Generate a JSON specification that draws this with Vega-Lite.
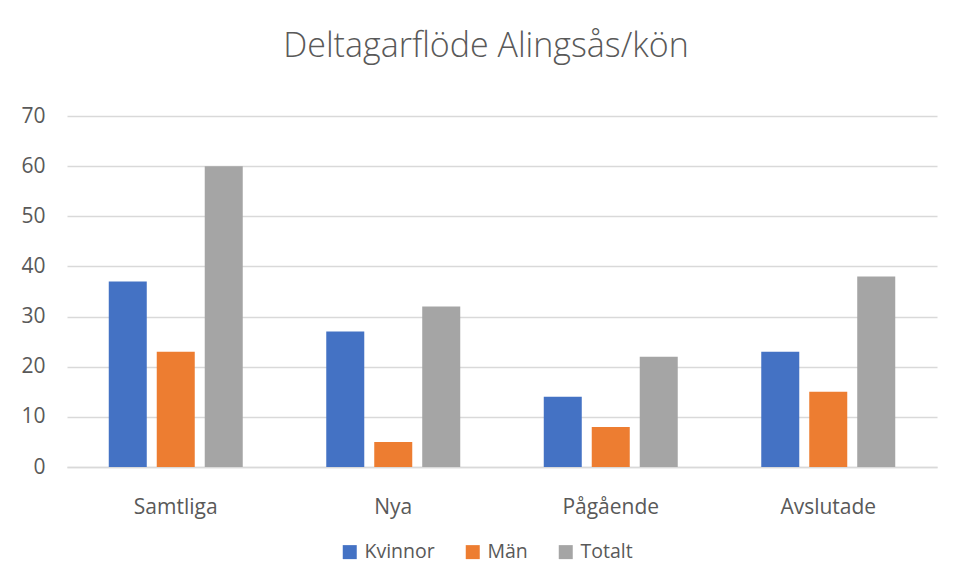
{
  "$schema": "https://vega.github.io/schema/vega-lite/v6.json",
  "width": 870,
  "height": 351,
  "autosize": {"type": "none"},
  "padding": {"left": 67, "top": 116, "right": 20, "bottom": 111},
  "background": "white",
  "title": {
    "text": "Deltagarflöde Alingsås/kön",
    "anchor": "middle",
    "dx": -16,
    "offset": 41,
    "fontSize": 34,
    "font": "Open Sans",
    "fontWeight": 300,
    "color": "#595959"
  },
  "data": {
    "values": [
      {"kategori": "Samtliga", "serie": "Kvinnor", "antal": 37},
      {"kategori": "Samtliga", "serie": "Män", "antal": 23},
      {"kategori": "Samtliga", "serie": "Totalt", "antal": 60},
      {"kategori": "Nya", "serie": "Kvinnor", "antal": 27},
      {"kategori": "Nya", "serie": "Män", "antal": 5},
      {"kategori": "Nya", "serie": "Totalt", "antal": 32},
      {"kategori": "Pågående", "serie": "Kvinnor", "antal": 14},
      {"kategori": "Pågående", "serie": "Män", "antal": 8},
      {"kategori": "Pågående", "serie": "Totalt", "antal": 22},
      {"kategori": "Avslutade", "serie": "Kvinnor", "antal": 23},
      {"kategori": "Avslutade", "serie": "Män", "antal": 15},
      {"kategori": "Avslutade", "serie": "Totalt", "antal": 38}
    ]
  },
  "mark": {"type": "bar"},
  "encoding": {
    "x": {
      "field": "kategori",
      "type": "nominal",
      "sort": ["Samtliga", "Nya", "Pågående", "Avslutade"],
      "scale": {"paddingInner": 0.384, "paddingOuter": 0.192},
      "axis": {
        "title": null,
        "labelAngle": 0,
        "ticks": false,
        "domainColor": "#d9d9d9",
        "domainWidth": 1.5,
        "labelPadding": 29,
        "labelFontSize": 21,
        "labelFont": "Open Sans",
        "labelColor": "#595959"
      }
    },
    "xOffset": {
      "field": "serie",
      "type": "nominal",
      "scale": {"paddingInner": 0.208, "paddingOuter": 0}
    },
    "y": {
      "field": "antal",
      "type": "quantitative",
      "scale": {"domain": [0, 70]},
      "axis": {
        "title": null,
        "values": [0, 10, 20, 30, 40, 50, 60, 70],
        "ticks": false,
        "domain": false,
        "gridColor": "#d9d9d9",
        "gridWidth": 1.3,
        "labelPadding": 22,
        "labelFontSize": 21,
        "labelFont": "Open Sans",
        "labelColor": "#595959"
      }
    },
    "color": {
      "field": "serie",
      "type": "nominal",
      "scale": {"domain": ["Kvinnor", "Män", "Totalt"], "range": ["#4472C4", "#ED7D31", "#A5A5A5"]},
      "legend": {
        "title": null,
        "orient": "none",
        "direction": "horizontal",
        "legendX": 273,
        "legendY": 426,
        "symbolType": "square",
        "symbolSize": 196,
        "symbolStrokeWidth": 0,
        "labelFontSize": 19.5,
        "labelFont": "Open Sans",
        "labelColor": "#595959",
        "labelOffset": 5,
        "columnPadding": 28
      }
    }
  },
  "config": {
    "view": {"stroke": null}
  }
}
